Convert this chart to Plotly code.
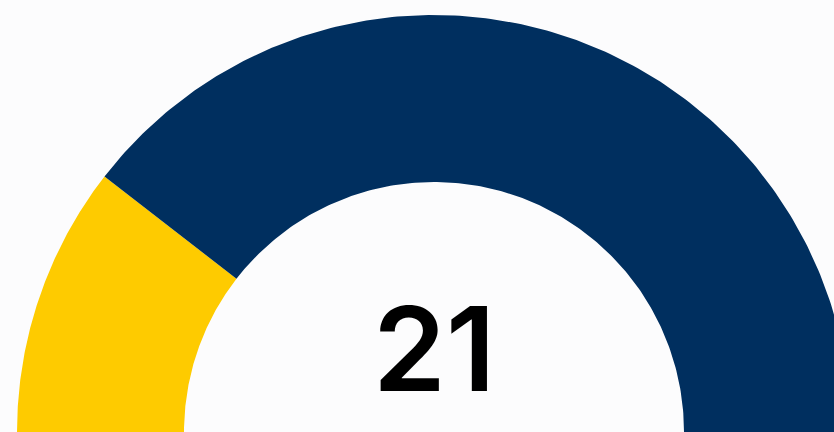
import numpy as np
import plotly.graph_objects as go

# Data
labels = ["Score", "Remaining"]
values = [21, 79]
colors = ["#FECB00", "#002F5F"]
center_text = "21"

# Geometry (pixels)
W, H = 834, 432
CX = 434.0
R_OUT, R_IN = 417.0, 250.0

total = sum(values)
fig = go.Figure()
cum = 0.0
for lab, v, c in zip(labels, values, colors):
    a0 = np.pi * (1 - cum / total)
    cum += v
    a1 = np.pi * (1 - cum / total)
    t = np.linspace(a0, a1, 200)
    xs = np.concatenate([R_OUT * np.cos(t), R_IN * np.cos(t[::-1])])
    ys = np.concatenate([R_OUT * np.sin(t), R_IN * np.sin(t[::-1])])
    xs = np.append(xs, xs[0])
    ys = np.append(ys, ys[0])
    fig.add_trace(go.Scatter(x=xs, y=ys, fill="toself", fillcolor=c, mode="lines",
                             line=dict(width=0, color=c), name=lab, hoverinfo="name"))

fig.add_annotation(x=0, y=84, text=center_text, showarrow=False,
                   xanchor="center", yanchor="middle",
                   font=dict(family="Inter, Liberation Sans, Arial, sans-serif", size=117,
                             weight=600, color="#000000"))

fig.update_layout(
    width=W, height=H,
    margin=dict(l=0, r=0, t=0, b=0),
    paper_bgcolor="#fcfcfd", plot_bgcolor="#fcfcfd",
    showlegend=False,
    xaxis=dict(range=[-CX, W - CX], visible=False, fixedrange=True),
    yaxis=dict(range=[0, H], visible=False, fixedrange=True),
)
fig.write_html("out.html", config={"displayModeBar": False},
               post_script="document.body.style.margin='0';document.body.style.overflow='hidden';")
